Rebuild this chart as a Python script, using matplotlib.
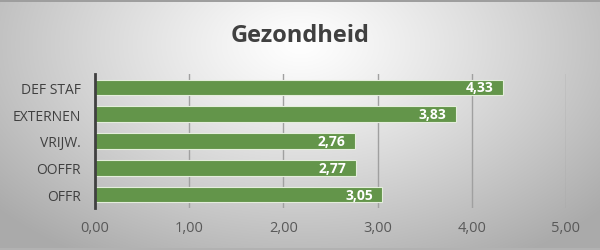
import numpy as np
import matplotlib
matplotlib.use("Agg")
import matplotlib.pyplot as plt

categories = ["OFFR", "OOFFR", "VRIJW.", "EXTERNEN", "DEF STAF"]
values = [3.05, 2.77, 2.76, 3.83, 4.33]
labels = ["3,05", "2,77", "2,76", "3,83", "4,33"]
xticks = [0, 1, 2, 3, 4, 5]
xticklabels = ["0,00", "1,00", "2,00", "3,00", "4,00", "5,00"]
title = "Gezondheid"

W, H = 600, 251
fig = plt.figure(figsize=(W / 100, H / 100), dpi=100)

# background radial gradient
bg = fig.add_axes([0, 0, 1, 1], zorder=-10)
yy, xx = np.mgrid[0:H, 0:W]
d = np.sqrt(((xx - 300) / 400.0) ** 2 + ((yy - 45) / 250.0) ** 2)
v = 1.0 - 0.33 * np.clip(d, 0, 1) ** 1.15
img = np.dstack([v, v, v])
img[0:3, :, :] = 0.62
img[H - 2:, :, :] = 0.70
bg.imshow(img, aspect="auto", extent=[0, W, H, 0], interpolation="bilinear")
bg.set_axis_off()

FONT = "Open Sans"
ax = fig.add_axes([95 / W, 1 - 209 / H, (566 - 95) / W, (209 - 75) / H])
ax.set_facecolor("none")
y = np.arange(len(categories))
ax.barh(y, values, height=0.58, color="#63954a", edgecolor="#e4eedc",
        linewidth=0.8, zorder=3)
for yi, v_, lab in zip(y, values, labels):
    ax.text(v_ - 0.1, yi, lab, ha="right", va="center", color="white",
            fontsize=10, fontweight="bold", family=FONT, zorder=4)

ax.set_xlim(0, 5)
ax.set_ylim(-0.5, len(categories) - 0.5)
ax.set_xticks(xticks)
ax.set_xticklabels(xticklabels, family=FONT, fontsize=10.5, color="#595959")
ax.set_yticks(y)
ax.set_yticklabels(categories, family=FONT, fontsize=10, color="#404040")
ax.tick_params(axis="both", length=0, pad=10)
ax.tick_params(axis="x", pad=9)
ax.grid(axis="x", color="#a0a0a0", linewidth=1.0, zorder=1)
for s in ["top", "right", "bottom"]:
    ax.spines[s].set_visible(False)
ax.spines["left"].set_color("#404040")
ax.spines["left"].set_linewidth(2)
ax.spines["left"].set_zorder(5)

fig.text(0.5, 1 - 36 / H, title, ha="center", va="center", family=FONT,
         fontsize=17, fontweight="bold", color="#404040")

fig.savefig("out.png", dpi=100)
